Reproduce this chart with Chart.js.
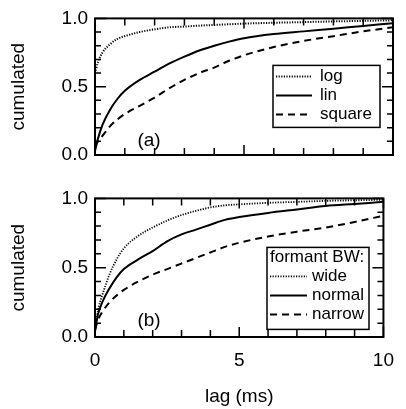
<!DOCTYPE html>
<html><head><meta charset="utf-8">
<script src="https://cdn.jsdelivr.net/npm/chart.js@4/dist/chart.umd.min.js"></script>
<style>
html,body{margin:0;padding:0;background:#fff;}
#wrap{position:relative;width:406px;height:409px;background:#fff;}
canvas{position:absolute;left:0;}
</style></head><body>
<div id="wrap">
<canvas id="ca" width="406" height="180" style="top:0"></canvas>
<canvas id="cb" width="406" height="229" style="top:180px"></canvas>
</div>
<script>
// ---- data (lag in ms, cumulated fraction) ----
const lag      = [0, 0.1, 0.25, 0.5, 0.75, 1, 1.5, 2, 2.5, 3, 3.5, 4, 4.5, 5, 6, 7, 8, 9, 10];
// panel (a)
const logA     = [0.60, 0.68, 0.75, 0.81, 0.85, 0.87, 0.90, 0.92, 0.935, 0.94, 0.947, 0.952, 0.957, 0.962, 0.968, 0.973, 0.978, 0.982, 0.986];
const linA     = [0.03, 0.12, 0.22, 0.33, 0.41, 0.47, 0.55, 0.61, 0.67, 0.72, 0.765, 0.80, 0.83, 0.855, 0.885, 0.905, 0.925, 0.945, 0.965];
const squareA  = [0.06, 0.10, 0.14, 0.21, 0.26, 0.30, 0.36, 0.42, 0.49, 0.55, 0.60, 0.64, 0.69, 0.73, 0.79, 0.835, 0.87, 0.905, 0.935];
// panel (b)
const wideB    = [0.05, 0.19, 0.30, 0.45, 0.56, 0.64, 0.73, 0.79, 0.84, 0.88, 0.91, 0.935, 0.95, 0.957, 0.968, 0.975, 0.982, 0.986, 0.99];
const normalB  = [0.04, 0.16, 0.25, 0.35, 0.43, 0.49, 0.56, 0.62, 0.69, 0.74, 0.775, 0.81, 0.845, 0.865, 0.895, 0.92, 0.945, 0.96, 0.975];
const narrowB  = [0.05, 0.12, 0.18, 0.25, 0.30, 0.34, 0.40, 0.45, 0.49, 0.53, 0.57, 0.61, 0.65, 0.68, 0.725, 0.76, 0.79, 0.83, 0.875];
// ticks
const xTickValues = [0, 5, 10];
const xTickLabels = ['0', '5', '10'];
const yTickValues = [0, 0.5, 1];
const yTickLabels = ['0.0', '0.5', '1.0'];
const xMinorTicks = [0, 1, 2, 3, 4, 5, 6, 7, 8, 9, 10];
const yMinorTicks = [0, 0.1, 0.2, 0.3, 0.4, 0.5, 0.6, 0.7, 0.8, 0.9, 1];

const FONT = "'Liberation Sans', Arial, Helvetica, sans-serif";
const pts = (xs, ys) => xs.map((v, i) => ({x: v, y: ys[i]}));

const DOT = [1.2, 1.4], DASH = [7, 5];
function ds(label, ys, dash, w) {
  return {label, data: pts(lag, ys), borderColor: '#000', borderWidth: w, borderDash: dash,
          pointRadius: 0, fill: false, cubicInterpolationMode: 'monotone'};
}

const framePlugin = {
  id: 'frame',
  afterDatasetsDraw(chart) {
    const {ctx, chartArea: a, scales: {x, y}} = chart;
    ctx.save();
    ctx.strokeStyle = '#000';
    ctx.lineWidth = 1.5;
    ctx.beginPath();
    xMinorTicks.forEach(v => {
      const px = x.getPixelForValue(v);
      const L = xTickValues.includes(v) ? 10 : 7;
      ctx.moveTo(px, a.bottom); ctx.lineTo(px, a.bottom - L);
      ctx.moveTo(px, a.top); ctx.lineTo(px, a.top + L);
    });
    yMinorTicks.forEach(v => {
      const py = y.getPixelForValue(v);
      const L = yTickValues.some(t => Math.abs(t - v) < 1e-9) ? 11 : 6;
      ctx.moveTo(a.left, py); ctx.lineTo(a.left + L, py);
      ctx.moveTo(a.right, py); ctx.lineTo(a.right - L, py);
    });
    ctx.stroke();
    ctx.lineWidth = 2;
    ctx.strokeRect(a.left, a.top, a.width, a.height);
    ctx.restore();
  }
};

const boxLegend = {
  id: 'boxLegend',
  afterDraw(chart, args, o) {
    const {ctx, chartArea: a} = chart;
    ctx.save();
    const L = a.left + o.left, T = a.top + o.top;
    ctx.fillStyle = '#fff';
    ctx.fillRect(L, T, o.width, o.height);
    ctx.strokeStyle = '#000';
    ctx.lineWidth = 1.5;
    ctx.setLineDash([]);
    ctx.strokeRect(L, T, o.width, o.height);
    ctx.font = o.fontSize + 'px ' + FONT;
    ctx.fillStyle = '#000';
    ctx.textBaseline = 'middle';
    ctx.textAlign = 'left';
    let yy = T + o.firstRow;
    if (o.header) {
      ctx.fillText(o.header, L + o.headerX, yy);
      yy += o.rowH;
    }
    chart.data.datasets.forEach(d => {
      ctx.beginPath();
      ctx.lineWidth = d.borderWidth;
      ctx.setLineDash(d.borderDash || []);
      ctx.moveTo(L + o.lineX0, yy); ctx.lineTo(L + o.lineX1, yy);
      ctx.stroke();
      ctx.setLineDash([]);
      ctx.fillText(d.label, L + o.textX, yy);
      yy += o.rowH;
    });
    // panel tag
    ctx.font = o.tagSize + 'px ' + FONT;
    ctx.textAlign = 'center';
    ctx.fillText(o.tag, a.left + o.tagX, a.top + o.tagY);
    ctx.restore();
  }
};

function makeChart(id, datasets, legendOpts, showX, pad, xHeight) {
  return new Chart(document.getElementById(id), {
    type: 'line',
    data: {datasets},
    options: {
      responsive: false, animation: false, devicePixelRatio: 1,
      layout: {padding: pad},
      plugins: {legend: {display: false}, tooltip: {enabled: false}, boxLegend: legendOpts},
      scales: {
        x: {
          type: 'linear', min: 0, max: 10,
          grid: {display: false, drawTicks: false},
          border: {display: false},
          afterBuildTicks: s => { s.ticks = xTickValues.map(v => ({value: v})); },
          ticks: {display: showX, padding: 12, color: '#000', font: {family: FONT, size: 19},
                  callback: (v) => xTickLabels[xTickValues.indexOf(v)]},
          title: {display: showX, text: 'lag (ms)', color: '#000', font: {family: FONT, size: 19},
                  padding: {top: 0, bottom: 1}},
          afterFit: s => { s.height = xHeight; }
        },
        y: {
          type: 'linear', min: 0, max: 1,
          grid: {display: false, drawTicks: false},
          border: {display: false},
          afterBuildTicks: s => { s.ticks = yTickValues.map(v => ({value: v})); },
          ticks: {padding: 7, color: '#000', font: {family: FONT, size: 19},
                  callback: (v) => yTickLabels[yTickValues.indexOf(v)]},
          title: {display: true, text: 'cumulated', color: '#000', font: {family: FONT, size: 19},
                  padding: {top: 7, bottom: 0}},
          afterFit: s => { s.width = 95; }
        }
      }
    },
    plugins: [framePlugin, boxLegend]
  });
}

makeChart('ca', [
  ds('log', logA, DOT, 2),
  ds('lin', linA, [], 2),
  ds('square', squareA, DASH, 2)
], {left: 178, top: 47, width: 107, height: 62, firstRow: 11, rowH: 19, header: null,
    lineX0: 3, lineX1: 39, textX: 47, fontSize: 17, tag: '(a)', tagX: 54, tagY: 122, tagSize: 19},
  false, {top: 15, right: 13, bottom: 25, left: 0}, 0);

makeChart('cb', [
  ds('wide', wideB, DOT, 1.8),
  ds('normal', normalB, [], 2),
  ds('narrow', narrowB, DASH, 2)
], {left: 172, top: 49, width: 102, height: 82, firstRow: 10, rowH: 19, header: 'formant BW:', headerX: 3,
    lineX0: 3, lineX1: 40, textX: 45, fontSize: 17, tag: '(b)', tagX: 54, tagY: 122, tagSize: 19},
  true, {top: 18, right: 13, bottom: 0, left: 0}, 72);
</script>
</body></html>
